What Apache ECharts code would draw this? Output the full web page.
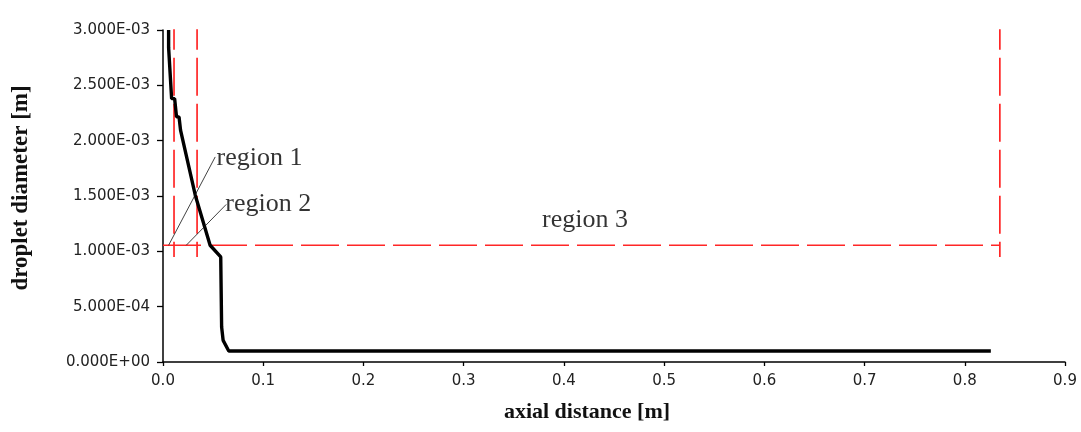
<!DOCTYPE html>
<html>
<head>
<meta charset="utf-8">
<script src="https://cdn.jsdelivr.net/npm/echarts@6/dist/echarts.min.js"></script>
<style>html,body{margin:0;padding:0;background:#fff;}#c{width:1081px;height:432px;}</style>
</head>
<body>
<div id="c"></div>
<script>
// Droplet diameter curve [axial distance (m), diameter (m)]
const curveX = [0.0056, 0.0056, 0.0062, 0.0086, 0.0116, 0.0135, 0.016, 0.0175, 0.019, 0.0322, 0.047, 0.0576, 0.0585, 0.060, 0.0656, 0.826];
const curveY = [3.0e-3, 2.84e-3, 2.84e-3, 2.38e-3, 2.38e-3, 2.215e-3, 2.215e-3, 2.095e-3, 2.095e-3, 1.507e-3, 1.055e-3, 0.949e-3, 0.316e-3, 0.195e-3, 0.0995e-3, 0.0995e-3];

// Region boundaries (red dashed)
const boundaryX = [0.011, 0.034, 0.835];
const boundaryTopY = 3.165e-3;
const boundaryBottomY = 0.949e-3;
const boundaryLineY = 1.055e-3;
const boundaryLineStartX = 0.0;

// Leader lines: [x1, y1, x2, y2]
const leader1 = [0.0056, 1.055e-3, 0.0521, 1.853e-3];
const leader2 = [0.0232, 1.055e-3, 0.0631, 1.424e-3];

// Region labels
const regionNames = ['region 1', 'region 2', 'region 3'];
const regionLabelX = [0.0535, 0.0622, 0.421];
const regionLabelY = [1.845e-3, 1.425e-3, 1.285e-3];

// Axis titles
const xTitle = 'axial distance [m]';
const yTitle = 'droplet diameter [m]';

// Axis ticks
const xMin = 0, xMax = 0.9, xStep = 0.1;
const yMin = 0, yMax = 3e-3, yStep = 5e-4;

function sci(v) {
  if (Math.abs(v) < 1e-12) return '0.000E+00';
  let e = Math.floor(Math.log10(Math.abs(v)) + 1e-9);
  let m = v / Math.pow(10, e);
  let es = (e < 0 ? '-' : '+') + String(Math.abs(e)).padStart(2, '0');
  return m.toFixed(3) + 'E' + es;
}

const redStyle = { color: '#ff2626', width: 1.7, type: [38, 8] };
const series = [];
series.push({
  type: 'line', data: curveX.map((x, i) => [x, curveY[i]]),
  showSymbol: false, lineStyle: { color: '#000', width: 3.4 }, z: 5, animation: false
});
boundaryX.forEach(bx => {
  series.push({
    type: 'line', data: [[bx, boundaryTopY], [bx, boundaryBottomY]],
    showSymbol: false, lineStyle: redStyle, z: 4, animation: false
  });
});
series.push({
  type: 'line', data: [[boundaryLineStartX, boundaryLineY], [boundaryX[2], boundaryLineY]],
  showSymbol: false, lineStyle: redStyle, z: 4, animation: false
});
[leader1, leader2].forEach(l => {
  series.push({
    type: 'line', data: [[l[0], l[1]], [l[2], l[3]]],
    showSymbol: false, lineStyle: { color: '#111', width: 0.8 }, z: 6, animation: false
  });
});
series.push({
  type: 'scatter', symbolSize: 0, animation: false, z: 7,
  data: regionNames.map((n, i) => ({
    value: [regionLabelX[i], regionLabelY[i]], name: n,
    label: i < 2 ? { position: 'right', distance: 0 } : { position: 'inside' }
  })),
  label: {
    show: true, formatter: p => p.name,
    fontFamily: '"Liberation Serif", "Times New Roman", serif', fontSize: 26, color: '#000'
  }
});

const chart = echarts.init(document.getElementById('c'), null, { renderer: 'canvas' });
chart.setOption({
  backgroundColor: '#fff',
  animation: false,
  grid: { left: 163, right: 16, top: 30, bottom: 70, containLabel: false },
  graphic: [
    { type: 'text', x: 587, y: 412, style: { text: xTitle, fontFamily: '"Liberation Serif", serif', fontWeight: 'bold', fontSize: 22, fill: '#111', align: 'center', verticalAlign: 'middle' } },
    { type: 'text', x: 21, y: 188, rotation: Math.PI / 2, style: { text: yTitle, fontFamily: '"Liberation Serif", serif', fontWeight: 'bold', fontSize: 23, fill: '#111', align: 'center', verticalAlign: 'middle' } }
  ],
  xAxis: {
    type: 'value', min: xMin, max: xMax, interval: xStep,
    axisLine: { lineStyle: { color: '#000', width: 1.5 } },
    axisTick: { show: true, inside: false, length: 4, lineStyle: { color: '#000', width: 1.3 } },
    axisLabel: { formatter: v => v.toFixed(1), fontFamily: '"DejaVu Sans", sans-serif', fontSize: 15, color: '#222', margin: 12 },
    splitLine: { show: false }
  },
  yAxis: {
    type: 'value', min: yMin, max: yMax, interval: yStep,
    axisLine: { show: true, lineStyle: { color: '#000', width: 1.5 } },
    axisTick: { show: true, inside: false, length: 6, lineStyle: { color: '#000', width: 1.3 } },
    axisLabel: { formatter: v => sci(v), fontFamily: '"DejaVu Sans", sans-serif', fontSize: 15, color: '#222', margin: 13 },
    splitLine: { show: false }
  },
  series: series
});
</script>
</body>
</html>
